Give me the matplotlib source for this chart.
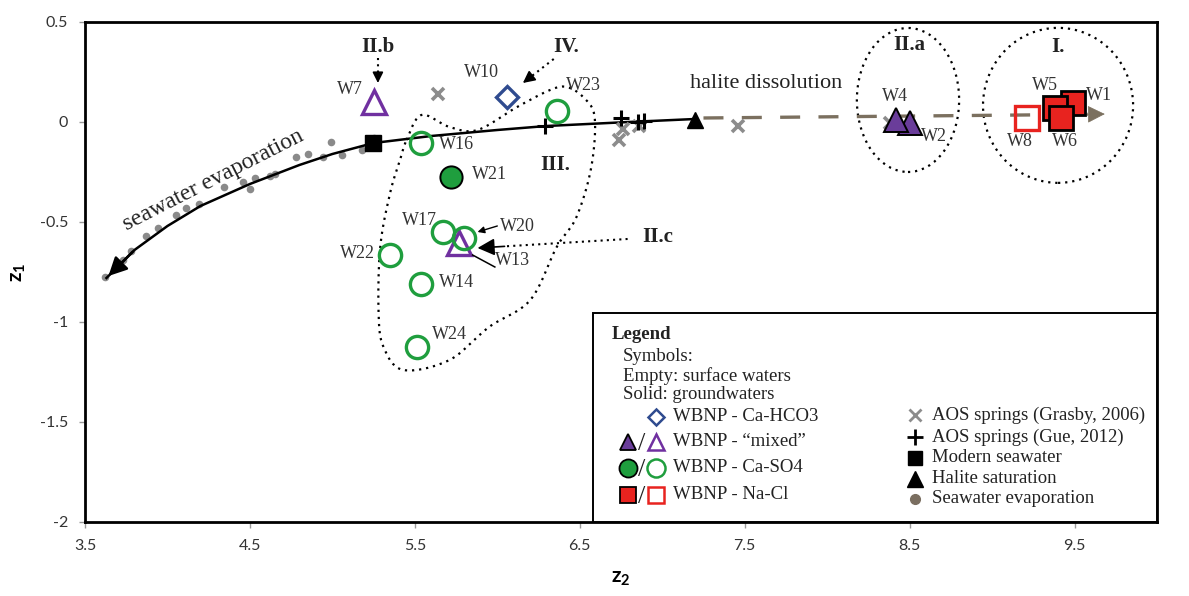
import matplotlib
matplotlib.use("Agg")
import matplotlib.pyplot as plt
import numpy as np
from matplotlib.patches import Ellipse, Rectangle

plt.rcParams['axes.unicode_minus'] = False
plt.rcParams['mathtext.fontset'] = 'custom'
plt.rcParams['mathtext.rm'] = 'Lato'
plt.rcParams['mathtext.bf'] = 'Lato:bold'

SERIF = 'Liberation Serif'

# --- sample points (z2, z1) ---
names = ['W1', 'W2', 'W4', 'W5', 'W6', 'W7', 'W8', 'W10', 'W13', 'W14', 'W16',
         'W17', 'W20', 'W21', 'W22', 'W23', 'W24']
z2 = [9.49, 8.50, 8.42, 9.38, 9.42, 5.25, 9.21, 6.06, 5.77, 5.54, 5.54,
      5.67, 5.80, 5.72, 5.35, 6.36, 5.51]
z1 = [0.095, -0.005, 0.01, 0.07, 0.02, 0.10, 0.02, 0.125, -0.605, -0.81, -0.105,
      -0.55, -0.58, -0.275, -0.665, 0.055, -1.125]
water_type = ['NaCl', 'mixed', 'mixed', 'NaCl', 'NaCl', 'mixed', 'NaCl', 'HCO3', 'mixed',
              'SO4', 'SO4', 'SO4', 'SO4', 'SO4', 'SO4', 'SO4', 'SO4']
is_ground = [True, True, True, True, True, False, False, False, False,
             False, False, False, False, True, False, False, False]

# AOS springs
grasby_z2 = [5.64, 6.74, 6.76, 6.86, 7.46, 8.38]
grasby_z1 = [0.14, -0.09, -0.035, -0.02, -0.02, -0.005]
gue_z2 = [6.29, 6.75, 6.85, 6.89]
gue_z1 = [-0.02, 0.02, 0.0, 0.005]

# reference waters
seawater = (5.245, -0.105)
halite_sat = (7.20, 0.01)

# seawater evaporation points
evap_z2 = [3.62, 3.73, 3.78, 3.87, 3.94, 4.05, 4.11, 4.19, 4.34, 4.46, 4.50, 4.53,
           4.62, 4.65, 4.78, 4.85, 4.94, 4.99, 5.06, 5.18, 5.25]
evap_z1 = [-0.775, -0.69, -0.645, -0.57, -0.53, -0.465, -0.43, -0.41, -0.325, -0.30,
           -0.335, -0.28, -0.27, -0.26, -0.175, -0.16, -0.175, -0.10, -0.165, -0.14, -0.08]

# evaporation trend curve (halite saturation -> concentrated brine)
curve_z2 = [3.63, 3.80, 4.00, 4.20, 4.50, 4.80, 5.00, 5.25, 5.60, 6.00, 6.30, 6.80, 7.20]
curve_z1 = [-0.78, -0.64, -0.52, -0.42, -0.31, -0.215, -0.16, -0.105, -0.07, -0.04, -0.02, 0.0, 0.015]

# halite dissolution trend
dissol_start = (7.25, 0.02)
dissol_end = (9.70, 0.04)

# group III outline
grp3_z2 = [5.45, 5.54, 5.71, 5.88, 6.12, 6.32, 6.42, 6.52, 6.59, 6.57, 6.48, 6.36, 6.20,
           5.95, 5.71, 5.43, 5.31, 5.28, 5.29, 5.35, 5.41]
grp3_z1 = [-0.09, 0.035, -0.025, -0.04, 0.075, 0.16, 0.175, 0.125, 0.025, -0.225, -0.475,
           -0.625, -0.89, -1.025, -1.19, -1.24, -1.125, -0.955, -0.625, -0.355, -0.19]

colors = {'NaCl': '#e8231f', 'mixed': '#7030a0', 'SO4': '#1f9e3e', 'HCO3': '#2f4b8f'}
shapes = {'NaCl': 's', 'mixed': '^', 'SO4': 'o', 'HCO3': 'D'}
sizes = {'NaCl': 17, 'mixed': 17, 'SO4': 16, 'HCO3': 11}
fill_mixed = '#6a3d9a'
DOT = (0, (1, 2.2))


def smooth_closed(xs, ys, n=20):
    # catmull-rom through the outline points
    pts = np.column_stack([xs, ys])
    m = len(pts)
    out = []
    for i in range(m):
        p0, p1, p2, p3 = pts[i - 1], pts[i], pts[(i + 1) % m], pts[(i + 2) % m]
        for t in np.linspace(0, 1, n, endpoint=False):
            t2, t3 = t * t, t * t * t
            out.append(0.5 * ((2 * p1) + (-p0 + p2) * t + (2 * p0 - 5 * p1 + 4 * p2 - p3) * t2
                              + (-p0 + 3 * p1 - 3 * p2 + p3) * t3))
    out.append(out[0])
    out = np.array(out)
    return out[:, 0], out[:, 1]


def dotted_arrow(ax, start, end, head=18):
    # dotted shaft with a solid head
    f = 0.82
    mid = (start[0] + f * (end[0] - start[0]), start[1] + f * (end[1] - start[1]))
    ax.plot([start[0], mid[0]], [start[1], mid[1]], color='black', lw=1.5, ls=(0, (1, 2)), zorder=7)
    ax.annotate('', xy=end, xytext=mid,
                arrowprops=dict(arrowstyle='-|>', mutation_scale=head, color='black', lw=1.2,
                                shrinkA=0, shrinkB=0), zorder=7)


fig = plt.figure(figsize=(11.89, 5.96), dpi=100)
ax = fig.add_axes([0.0715, 0.1242, 0.9016, 0.8389])
ax.set_xlim(3.5, 10.0)
ax.set_ylim(-2.0, 0.5)
xt = np.arange(3.5, 10.0, 1.0)
yt = np.arange(-2.0, 0.51, 0.5)
ax.set_xticks(xt)
ax.set_yticks(yt)
ax.set_xticklabels([f"{v:g}" for v in xt])
ax.set_yticklabels([f"{v:g}" for v in yt])
for lab in ax.get_xticklabels() + ax.get_yticklabels():
    lab.set_fontfamily('Lato')
    lab.set_fontsize(11.5)
    lab.set_color('#333333')
ax.tick_params(direction='out', length=4, width=1, color='#999999', pad=8)
for s in ax.spines.values():
    s.set_linewidth(2)
    s.set_color('black')
ax.set_xlabel(r'$\mathbf{z}_\mathbf{2}$', fontsize=15)
ax.set_ylabel(r'$\mathbf{z}_\mathbf{1}$', fontsize=15)
ax.xaxis.set_label_coords(0.5, -0.093)
ax.yaxis.set_label_coords(-0.053, 0.5)

# evaporation trend
ax.scatter(evap_z2, evap_z1, s=30, color='#8a8a8a', zorder=2, linewidths=0)
ax.plot(curve_z2, curve_z1, color='black', lw=1.8, zorder=3)
ax.annotate('', xy=(curve_z2[0], curve_z1[0]), xytext=(curve_z2[1], curve_z1[1]),
            arrowprops=dict(arrowstyle='-|>', mutation_scale=28, color='black', lw=1.8), zorder=3)
ax.plot(*seawater, marker='s', ms=11, color='black', zorder=5)
ax.plot(*halite_sat, marker='^', ms=11, color='black', zorder=5)

# halite dissolution
ax.plot([dissol_start[0], dissol_end[0] - 0.12], [dissol_start[1], dissol_end[1] - 0.002],
        color='#7b705f', lw=2.4, dashes=(6, 5.5), zorder=2)
ax.annotate('', xy=dissol_end, xytext=(dissol_end[0] - 0.15, dissol_end[1] - 0.002),
            arrowprops=dict(arrowstyle='-|>', mutation_scale=28, color='#7b705f', lw=0.5), zorder=2)

# AOS springs
ax.plot(grasby_z2, grasby_z1, 'x', ms=9, mew=2.6, color='#8c8c8c', ls='none', zorder=4)
ax.plot(gue_z2, gue_z1, '+', ms=12, mew=2.2, color='black', ls='none', zorder=4)

# WBNP samples
for n, x, y, t, g in zip(names, z2, z1, water_type, is_ground):
    c = colors[t]
    if g:
        fc = fill_mixed if t == 'mixed' else c
        ax.plot(x, y, marker=shapes[t], ms=sizes[t], mfc=fc, mec='black', mew=2 if t == 'NaCl' else 1.4,
                ls='none', zorder=6)
    else:
        ax.plot(x, y, marker=shapes[t], ms=sizes[t], mfc='none', mec=c, mew=2.4, ls='none', zorder=6)

# groups
gx, gy = smooth_closed(grp3_z2, grp3_z1)
ax.plot(gx, gy, color='black', lw=1.6, ls=DOT, zorder=1)
ax.add_patch(Ellipse((8.49, 0.11), 0.62, 0.72, fill=False, lw=1.6, ls=DOT, zorder=1))
ax.add_patch(Ellipse((9.40, 0.083), 0.91, 0.775, fill=False, lw=1.6, ls=DOT, zorder=1))

# labels
lab_pos = {'W1': (9.65, 0.13), 'W2': (8.65, -0.075), 'W4': (8.41, 0.125), 'W5': (9.32, 0.18),
           'W6': (9.44, -0.10), 'W7': (5.106, 0.16), 'W8': (9.17, -0.10), 'W10': (5.906, 0.245),
           'W13': (6.09, -0.695), 'W14': (5.75, -0.805), 'W16': (5.75, -0.115), 'W17': (5.53, -0.495),
           'W20': (6.12, -0.525), 'W21': (5.955, -0.265), 'W22': (5.15, -0.66), 'W23': (6.52, 0.18),
           'W24': (5.71, -1.065)}
for n in names:
    ax.text(*lab_pos[n], n, fontsize=13, family=SERIF, color='#333333', ha='center', va='center', zorder=7)

for txt, pos in [('II.b', (5.276, 0.375)), ('IV.', (6.42, 0.375)), ('III.', (6.35, -0.215)),
                 ('II.c', (6.97, -0.575)), ('II.a', (8.50, 0.385)), ('I.', (9.40, 0.375))]:
    ax.text(*pos, txt, fontsize=15, family=SERIF, weight='bold', color='#222222',
            ha='center', va='center', zorder=7)

dotted_arrow(ax, (5.276, 0.32), (5.276, 0.195), head=16)
dotted_arrow(ax, (6.342, 0.315), (6.155, 0.195), head=18)
dotted_arrow(ax, (6.79, -0.585), (5.88, -0.63), head=26)
ax.annotate('', xy=(5.88, -0.55), xytext=(6.0, -0.52),
            arrowprops=dict(arrowstyle='-|>', mutation_scale=10, color='black', lw=1,
                            shrinkA=0, shrinkB=0))
ax.plot([5.85, 5.985], [-0.665, -0.725], color='black', lw=1.1, zorder=7)

ax.text(7.63, 0.19, 'halite dissolution', fontsize=16, family=SERIF, color='#222222',
        ha='center', va='center')
ax.text(4.276, -0.29, 'seawater evaporation', fontsize=17, family=SERIF, color='#222222',
        ha='center', va='center', rotation=27, rotation_mode='anchor')

# legend box
ax.add_patch(Rectangle((0.474, 0.0), 0.526, 0.418, transform=ax.transAxes, fill=True,
                       facecolor='white', edgecolor='black', lw=1.4, zorder=8))
T = ax.transAxes
lt = dict(transform=T, family=SERIF, fontsize=13.5, color='#222222', va='center', zorder=9)
ax.text(0.4916, 0.374, 'Legend', weight='bold', **lt)
ax.text(0.502, 0.330, 'Symbols:', **lt)
ax.text(0.502, 0.292, 'Empty: surface waters', **lt)
ax.text(0.502, 0.254, 'Solid: groundwaters', **lt)

rows = [('HCO3', 0.21, 'WBNP - Ca-HCO3'), ('mixed', 0.16, 'WBNP - \u201cmixed\u201d'),
        ('SO4', 0.108, 'WBNP - Ca-SO4'), ('NaCl', 0.054, 'WBNP - Na-Cl')]
leg_ms = {'HCO3': 8, 'mixed': 11, 'SO4': 13, 'NaCl': 12}
for t, yy, txt in rows:
    c = colors[t]
    if t != 'HCO3':
        fc = fill_mixed if t == 'mixed' else c
        ax.plot(0.5065, yy, marker=shapes[t], ms=leg_ms[t], mfc=fc, mec='black', mew=1.3,
                transform=T, zorder=9)
        ax.text(0.5195, yy - 0.005, '/', transform=T, family=SERIF, fontsize=19, color='#222222',
                ha='center', va='center', zorder=9)
    ax.plot(0.533, yy, marker=shapes[t], ms=leg_ms[t], mfc='none', mec=c, mew=1.8,
            transform=T, zorder=9)
    ax.text(0.5485, yy, txt, **lt)

rrows = [(0.214, 'x', '#8c8c8c', 8, 'AOS springs (Grasby, 2006)'),
         (0.170, '+', 'black', 11, 'AOS springs (Gue, 2012)'),
         (0.128, 's', 'black', 10, 'Modern seawater'),
         (0.086, '^', 'black', 11, 'Halite saturation'),
         (0.046, 'o', '#7a6e60', 7, 'Seawater evaporation')]
for yy, mk, c, ms, txt in rrows:
    ax.plot(0.774, yy, marker=mk, ms=ms, color=c, mew=2 if mk in 'x+' else 1,
            transform=T, zorder=9)
    ax.text(0.790, yy, txt, **lt)

fig.savefig('out.png', dpi=100)
